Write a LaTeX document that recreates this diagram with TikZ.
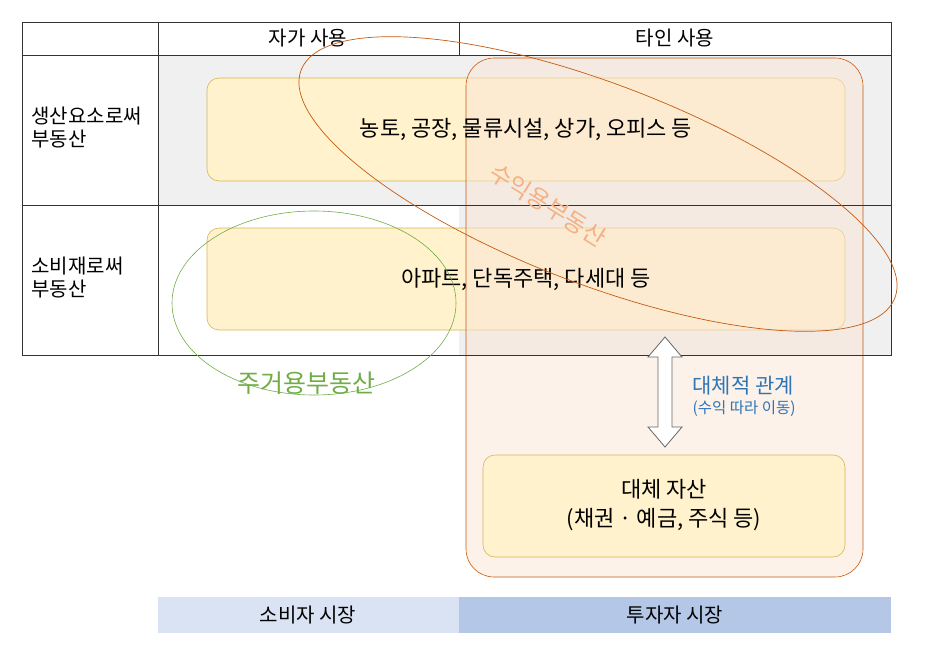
\documentclass[tikz,border=0pt]{standalone}
\usepackage{fontspec}
\setmainfont{Noto Sans CJK KR}
\usetikzlibrary{shapes.geometric,arrows.meta}
\definecolor{ybox}{HTML}{FFF2CC}
\definecolor{ydraw}{HTML}{D6B656}
\definecolor{orng}{HTML}{C55A11}
\definecolor{orfill}{HTML}{FBE5D6}
\definecolor{ortext}{HTML}{F4B183}
\definecolor{grn}{HTML}{70AD47}
\definecolor{blu}{HTML}{2E75B6}
\definecolor{bar1}{HTML}{DAE3F3}
\definecolor{bar2}{HTML}{B4C7E7}
\tikzset{ybox/.style={draw=ydraw,fill=ybox,rounded corners=12pt,line width=0.6pt},
 tline/.style={draw=black!80,line width=0.8pt},
 tf/.style={font=\fontsize{20pt}{24pt}\selectfont},
 lbl/.style={font=\fontsize{20pt}{23pt}\selectfont,align=left,anchor=west}}
\begin{document}
\begin{tikzpicture}[x=1pt,y=-1pt]
\useasboundingbox (0,0) rectangle (926,645);
% gray fills
\fill[black!6] (158,55) rectangle (891,205);
\fill[black!6] (459,205) rectangle (891,355);
% yellow boxes
\draw[ybox] (207,78) rectangle (845,181);
\draw[ybox] (207,228) rectangle (845,330);
% orange rounded region
\draw[orng,fill=orfill,fill opacity=0.5,rounded corners=28pt,line width=0.6pt] (466,58) rectangle (863,577);
% table lines
\draw[tline] (22,22) rectangle (891,355);
\draw[tline] (22,55) -- (891,55);
\draw[tline] (22,205) -- (891,205);
\draw[tline] (158,22) -- (158,355);
\draw[tline] (459,22) -- (459,55);
\node[tf] (h1) at (308,38) {자가 사용};
\node[tf] (h2) at (675,38) {타인 사용};
\node[lbl] (r1) at (28,128) {생산요소로써\\부동산};
\node[lbl] (r2) at (28,278) {소비재로써\\부동산};
\node[font=\fontsize{22pt}{26pt}\selectfont] (b1) at (526,129) {농토, 공장, 물류시설, 상가, 오피스 등};
\node[font=\fontsize{22pt}{26pt}\selectfont] (b2) at (526,279) {아파트, 단독주택, 다세대 등};
% ellipses
\draw[orng,line width=0.7pt,rotate around={-21:(598,184)}] (598,184) ellipse (318 and 100);
\node[text=ortext,font=\fontsize{24pt}{28pt}\selectfont,rotate=-32,inner sep=0pt] (suik) at (548,205) {수익용부동산};
\draw[grn,line width=0.6pt] (314,303) ellipse (142 and 92);
\node[text=grn,font=\fontsize{25pt}{29pt}\selectfont] (jg) at (306,383) {주거용부동산};
% alt asset box
\draw[ybox] (483,455) rectangle (845,557);
\node[font=\fontsize{22pt}{29pt}\selectfont,align=center] (alt) at (664,505) {대체 자산\\(채권 · 예금, 주식 등)};
% double arrow
\draw[black!60,fill=white,line width=0.8pt] (665,337) -- (682,357) -- (672,357) -- (672,427) -- (682,427) -- (665,447) -- (648,427) -- (658,427) -- (658,357) -- (648,357) -- cycle;
\node[text=blu,font=\fontsize{21pt}{24pt}\selectfont,anchor=west] (rel) at (689,386) {대체적 관계};
\node[text=blu,font=\fontsize{15.5pt}{18pt}\selectfont,anchor=west] (rel2) at (689,409) {(수익 따라 이동)};
% bottom bars
\fill[bar1] (158,597) rectangle (459,633);
\fill[bar2] (459,597) rectangle (891,633);
\node[tf] (m1) at (308,615) {소비자 시장};
\node[tf] (m2) at (675,615) {투자자 시장};
\end{tikzpicture}
\end{document}
